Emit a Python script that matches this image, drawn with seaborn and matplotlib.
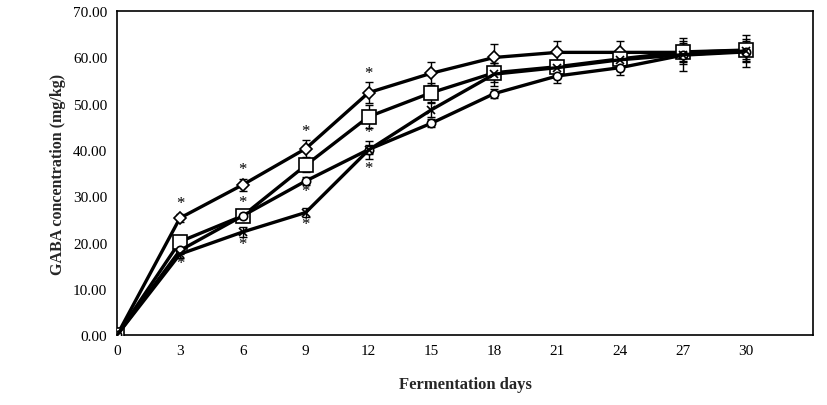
import matplotlib
matplotlib.use("Agg")
import matplotlib.pyplot as plt
import seaborn as sns
import pandas as pd
import numpy as np

sns.set_theme(style="white")
plt.rcParams['font.family'] = ['Liberation Serif', 'DejaVu Serif']

days = [0, 3, 6, 9, 12, 15, 18, 21, 24, 27, 30]
series_names = ["A", "B", "C", "D"]
diamond = [0.0, 25.3, 32.5, 40.3, 52.4, 56.6, 60.0, 61.1, 61.1, 61.1, 61.5]
square = [0.0, 20.2, 25.8, 36.7, 47.2, 52.4, 56.7, 58.0, 59.7, 61.2, 61.6]
circle = [0.0, 18.3, 25.8, 33.3, 40.1, 45.8, 52.2, 56.0, 57.8, 60.5, 61.2]
cross = [0.0, 17.5, 22.3, 26.5, 40.0, 48.7, 56.4, 57.8, 59.5, 60.6, 61.4]
diamond_err = [0, 0.8, 1.3, 1.8, 2.2, 2.5, 3.0, 2.5, 2.5, 2.5, 2.5]
square_err = [0, 1.0, 0.8, 1.5, 2.5, 2.0, 2.0, 1.5, 1.5, 2.0, 2.0]
circle_err = [0, 0.8, 0.8, 0.8, 1.0, 0.8, 1.0, 1.5, 1.5, 1.5, 2.0]
cross_err = [0, 0.8, 1.0, 1.0, 2.0, 1.5, 2.5, 1.5, 1.5, 3.5, 3.5]

star_days = [3, 3, 6, 6, 6, 9, 9, 9, 12, 12, 12]
star_vals = [28.6, 15.6, 35.8, 28.8, 19.6, 44.2, 31.2, 24.0, 56.6, 43.8, 36.2]

x_ticks = [0, 3, 6, 9, 12, 15, 18, 21, 24, 27, 30]
y_ticks = [0, 10, 20, 30, 40, 50, 60, 70]

rows = []
for name, vals in zip(series_names, [diamond, square, circle, cross]):
    for d, v in zip(days, vals):
        rows.append({"day": d, "val": v, "series": name})
df = pd.DataFrame(rows)

fig = plt.figure(figsize=(8.27, 4.06), dpi=100)
ax = fig.add_axes([0.1415, 0.172, 0.8415, 0.798])

markers = {"A": "D", "B": "s", "C": "o", "D": "x"}
sizes = {"A": 6.5, "B": 10, "C": 6, "D": 6}

for name, vals, errs in zip(series_names, [diamond, square, circle, cross],
                            [diamond_err, square_err, circle_err, cross_err]):
    ax.errorbar(days, vals, yerr=errs, fmt="none", ecolor="black",
                elinewidth=1.0, capsize=3, capthick=1.0, zorder=2)

for name in series_names:
    sub = df[df.series == name]
    sns.lineplot(data=sub, x="day", y="val", ax=ax, color="black",
                 linewidth=2.4, marker=markers[name], markersize=sizes[name],
                 markerfacecolor="white" if name != "D" else "black",
                 markeredgecolor="black", markeredgewidth=1.2, zorder=3,
                 legend=False)

for d, v in zip(star_days, star_vals):
    ax.text(d, v, "*", ha="center", va="center", fontsize=12, color="black")

ax.set_xlim(0, 33.2)
ax.set_ylim(0, 70)
ax.set_xticks(x_ticks)
ax.set_xticklabels([str(t) for t in x_ticks], fontsize=11)
ax.set_yticks(y_ticks)
ax.set_yticklabels([f"{t:.2f}" for t in y_ticks], fontsize=11)
ax.tick_params(axis="x", direction="in", length=4, width=1, colors="black", pad=6)
ax.tick_params(axis="y", direction="out", length=4, width=1, colors="black", pad=3)
ax.tick_params(axis="both", labelcolor="black")
for s in ax.spines.values():
    s.set_color("black")
    s.set_linewidth(1.2)
ax.set_xlabel("Fermentation days", fontsize=12, fontweight="bold", labelpad=14)
ax.set_ylabel("GABA concentration (mg/kg)", fontsize=11.5, fontweight="bold", labelpad=5)
ax.grid(False)

fig.savefig("out.png", dpi=100)
